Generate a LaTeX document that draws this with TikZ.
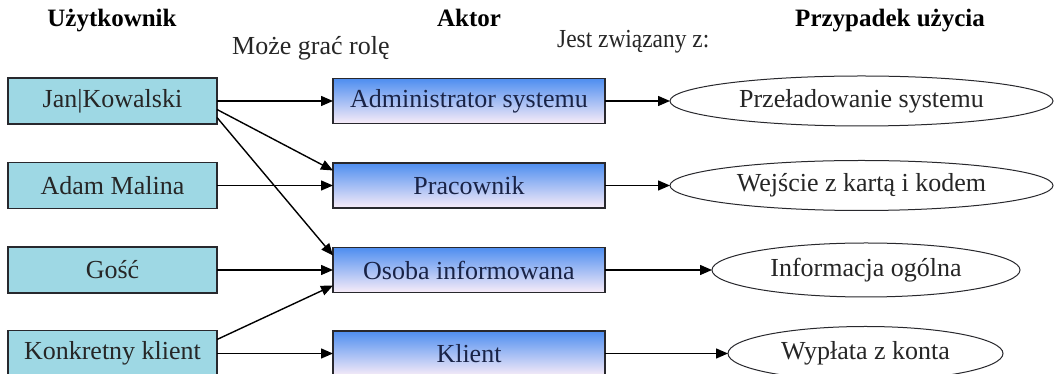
\documentclass[tikz,border=0pt]{standalone}
\usepackage{fontspec}
\setmainfont{Liberation Serif}
\newfontfamily\narrowserif[FakeStretch=0.9]{Liberation Serif}
\usetikzlibrary{arrows.meta,shapes.geometric}
\definecolor{userfill}{RGB}{158,216,228}
\definecolor{actortop}{RGB}{78,142,240}
\definecolor{actorbot}{RGB}{248,236,248}
\definecolor{actortext}{RGB}{25,35,70}
\definecolor{edgegray}{RGB}{40,40,45}
\tikzset{
  userbox/.style={draw=edgegray, line width=1.2pt, fill=userfill, minimum width=209pt, minimum height=46pt, inner sep=0pt, outer sep=0pt, font=\fontsize{26}{29}\selectfont, text=black!85},
  actorbox/.style={draw=edgegray, line width=1.2pt, top color=actortop, bottom color=actorbot, minimum width=272pt, minimum height=45pt, inner sep=0pt, outer sep=0pt, font=\fontsize{26}{29}\selectfont, text=actortext},
  usecase/.style={ellipse, draw=edgegray, line width=1pt, fill=white, inner sep=0pt, outer sep=0pt, font=\fontsize{26}{29}\selectfont, text=black!85},
  header/.style={font=\fontsize{25}{28}\selectfont\bfseries, text=black, inner sep=0pt, anchor=base},
  plain/.style={font=\fontsize{26}{29}\selectfont, text=black!85, inner sep=0pt, anchor=base west},
  link/.style={draw=black, line width=1.4pt, -{Triangle[length=12pt,width=10pt]}}
}
\begin{document}
\begin{tikzpicture}[x=1pt,y=1pt]
\useasboundingbox (0,0) rectangle (1055,374);
\clip (0,0) rectangle (1055,374);
\fill[white] (0,0) rectangle (1055,374);
% headers
\node[header] (h1) at (112,347) {Użytkownik};
\node[header] (h2) at (469,347) {Aktor};
\node[header] (h3) at (890,347) {Przypadek użycia};
\node[plain] (t1) at (232,319) {Może grać rolę};
\node[plain, font=\fontsize{26}{29}\narrowserif] (t2) at (557,326) {Jest związany z:};
% users
\node[userbox] (jan) at (112.5,273) {Jan|Kowalski};
\node[userbox] (adam) at (112.5,188.5) {Adam Malina};
\node[userbox] (gosc) at (112.5,104) {Gość};
\node[userbox] (kk) at (112.5,20.5) {Konkretny klient};
% actors
\node[actorbox] (admin) at (469,273) {Administrator systemu};
\node[actorbox] (prac) at (469,188.5) {Pracownik};
\node[actorbox] (osoba) at (469,104) {Osoba informowana};
\node[actorbox] (klient) at (469,20.5) {Klient};
% use cases
\node[usecase, minimum width=383pt, minimum height=50pt] (e1) at (861.5,273) {Przeładowanie systemu};
\node[usecase, minimum width=383pt, minimum height=50pt] (e2) at (861.5,188.5) {Wejście z kartą i kodem};
\node[usecase, minimum width=308pt, minimum height=54pt] (e3) at (866,104) {Informacja ogólna};
\node[usecase, minimum width=275pt, minimum height=54pt] (e4) at (865.5,20.5) {Wypłata z konta};
% user -> actor
\draw[link] (jan) -- (admin);
\draw[link] (adam) -- (prac);
\draw[link] (gosc) -- (osoba);
\draw[link] (kk) -- (klient);
\draw[link] ([yshift=-8.5pt]jan.east) -- ([yshift=15pt]prac.west);
\draw[link] ([yshift=-16.5pt]jan.east) -- ([yshift=14.5pt]osoba.west);
\draw[link] ([yshift=14pt]kk.east) -- ([yshift=-15.5pt]osoba.west);
% actor -> use case
\draw[link] (admin) -- (e1);
\draw[link] (prac) -- (e2);
\draw[link] (osoba) -- (e3);
\draw[link] (klient) -- (e4);
\end{tikzpicture}
\end{document}
